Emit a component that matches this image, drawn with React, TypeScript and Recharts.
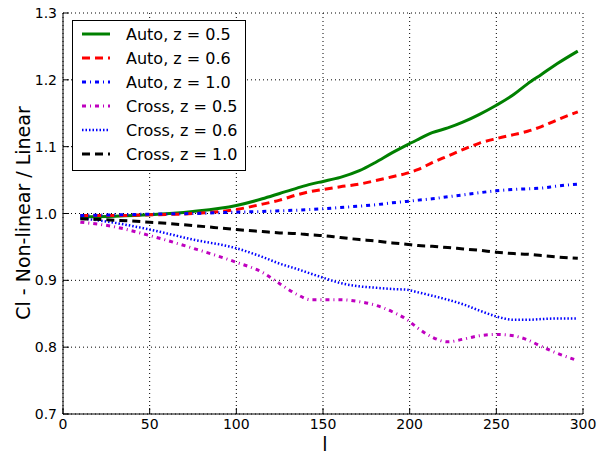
import React from 'react';
import {
  LineChart, Line, XAxis, YAxis, CartesianGrid, Legend,
} from 'recharts';

const ELLS = [10, 30, 50, 75, 100, 115, 125, 135, 143, 150, 160, 171, 180, 190, 198, 205, 213, 222, 231, 240, 250, 260, 268, 276, 285, 297];

const AUTO_05 = [0.995, 0.996, 0.998, 1.003, 1.012, 1.022, 1.030, 1.038, 1.044, 1.048, 1.054, 1.064, 1.076, 1.091, 1.102, 1.111, 1.121, 1.128, 1.137, 1.148, 1.162, 1.178, 1.194, 1.208, 1.224, 1.243];
const AUTO_06 = [0.997, 0.997, 0.998, 1.0, 1.006, 1.014, 1.020, 1.028, 1.033, 1.036, 1.040, 1.044, 1.049, 1.055, 1.060, 1.066, 1.076, 1.086, 1.096, 1.105, 1.112, 1.118, 1.123, 1.130, 1.140, 1.152];
const AUTO_10 = [0.997, 0.998, 0.999, 1.0, 1.002, 1.003, 1.004, 1.005, 1.006, 1.007, 1.009, 1.011, 1.013, 1.016, 1.018, 1.020, 1.022, 1.025, 1.028, 1.031, 1.034, 1.036, 1.037, 1.038, 1.041, 1.044];
const CROSS_05 = [0.987, 0.98, 0.967, 0.948, 0.927, 0.912, 0.895, 0.879, 0.871, 0.871, 0.871, 0.868, 0.863, 0.853, 0.842, 0.828, 0.815, 0.808, 0.812, 0.817, 0.819, 0.817, 0.811, 0.801, 0.791, 0.78];
const CROSS_06 = [0.993, 0.986, 0.976, 0.961, 0.948, 0.935, 0.925, 0.917, 0.910, 0.904, 0.896, 0.891, 0.889, 0.887, 0.886, 0.882, 0.877, 0.871, 0.864, 0.855, 0.846, 0.841, 0.841, 0.842, 0.843, 0.843];
const CROSS_10 = [0.992, 0.99, 0.987, 0.982, 0.976, 0.973, 0.971, 0.970, 0.968, 0.967, 0.964, 0.961, 0.959, 0.956, 0.954, 0.952, 0.951, 0.949, 0.947, 0.945, 0.942, 0.940, 0.939, 0.937, 0.935, 0.933];

const X_TICKS = [0, 50, 100, 150, 200, 250, 300];
const Y_TICKS = [0.7, 0.8, 0.9, 1.0, 1.1, 1.2, 1.3];

const SERIES = [
  { key: 'a05', name: 'Auto, z = 0.5', values: AUTO_05, color: '#008000', width: 3, dash: undefined },
  { key: 'a06', name: 'Auto, z = 0.6', values: AUTO_06, color: '#ff0000', width: 3, dash: '8 5' },
  { key: 'a10', name: 'Auto, z = 1.0', values: AUTO_10, color: '#0000ff', width: 3, dash: '4 4 1 4' },
  { key: 'c05', name: 'Cross, z = 0.5', values: CROSS_05, color: '#bf00bf', width: 3, dash: '4 4 1 4' },
  { key: 'c06', name: 'Cross, z = 0.6', values: CROSS_06, color: '#0000ff', width: 2.5, dash: '1.5 2' },
  { key: 'c10', name: 'Cross, z = 1.0', values: CROSS_10, color: '#000000', width: 3, dash: '8 5' },
];

const data = ELLS.map((l, i) => {
  const row: Record<string, number> = { l };
  for (const s of SERIES) row[s.key] = s.values[i];
  return row;
});

const FONT = 'DejaVu Sans, sans-serif';

function BottomTick(props: any) {
  const { x, y, payload } = props;
  const axisY = y - 8;
  return (
    <g>
      <line x1={x} x2={x} y1={axisY} y2={axisY - 6} stroke="#000" />
      <text x={x} y={axisY + 15} textAnchor="middle" fontSize={14} fontFamily={FONT} fill="#000">
        {payload.value}
      </text>
    </g>
  );
}

function LeftTick(props: any) {
  const { x, y, payload } = props;
  const axisX = x + 6;
  return (
    <g>
      <line x1={axisX} x2={axisX + 6} y1={y} y2={y} stroke="#000" />
      <text x={axisX - 6} y={y + 5} textAnchor="end" fontSize={14} fontFamily={FONT} fill="#000">
        {Number(payload.value).toFixed(1)}
      </text>
    </g>
  );
}

function TopTick(props: any) {
  const { x, y } = props;
  const axisY = y + 2;
  return <line x1={x} x2={x} y1={axisY} y2={axisY + 6} stroke="#000" />;
}

function RightTick(props: any) {
  const { x, y } = props;
  const axisX = x - 2;
  return <line x1={axisX} x2={axisX - 6} y1={y} y2={y} stroke="#000" />;
}

function LegendBox() {
  return (
    <svg width={174} height={151} style={{ display: 'block' }}>
      <rect x={0.5} y={0.5} width={173} height={150} fill="#fff" stroke="#000" />
      {SERIES.map((s, i) => {
        const cy = 14 + i * 24;
        return (
          <g key={s.key}>
            <line x1={10} x2={38} y1={cy} y2={cy} stroke={s.color} strokeWidth={s.width}
              strokeDasharray={s.dash} />
            <text x={54} y={cy + 6} fontSize={16} fontFamily={FONT} fill="#000">{s.name}</text>
          </g>
        );
      })}
    </svg>
  );
}

export default function App() {
  document.body.style.margin = '0';
  return (
    <div style={{ width: 609, height: 455, background: '#fff', position: 'relative' }}>
      <LineChart width={609} height={455} data={data}
        margin={{ top: 13, right: 26, left: 0, bottom: 0 }}>
        <CartesianGrid stroke="#000" strokeDasharray="1 3" horizontalValues={Y_TICKS}
          verticalValues={X_TICKS} />
        <XAxis dataKey="l" type="number" domain={[0, 300]} ticks={X_TICKS} height={41}
          axisLine={{ stroke: '#000' }} tickLine={false} tickSize={0} tickMargin={8}
          tick={<BottomTick />} interval={0} />
        <XAxis xAxisId="top" orientation="top" type="number" domain={[0, 300]} ticks={X_TICKS}
          height={0} axisLine={{ stroke: '#000' }} tickLine={false} tickSize={0} tickMargin={2}
          tick={<TopTick />} interval={0} />
        <YAxis type="number" domain={[0.7, 1.3]} ticks={Y_TICKS} width={63}
          axisLine={{ stroke: '#000' }} tickLine={false} tickSize={0} tickMargin={6}
          tick={<LeftTick />} interval={0} />
        <YAxis yAxisId="right" orientation="right" type="number" domain={[0.7, 1.3]} ticks={Y_TICKS}
          width={0} axisLine={{ stroke: '#000' }} tickLine={false} tickSize={0} tickMargin={2}
          tick={<RightTick />} interval={0} />
        <Legend layout="vertical" align="center" verticalAlign="middle"
          wrapperStyle={{ left: 72, top: 20, width: 174, height: 151 }}
          content={() => <LegendBox />} />
        {SERIES.map((s) => (
          <Line key={s.key} type="monotone" dataKey={s.key} name={s.name} stroke={s.color}
            strokeWidth={s.width} strokeDasharray={s.dash} dot={false}
            isAnimationActive={false} />
        ))}
      </LineChart>
      <div style={{ position: 'absolute', left: 325, top: 434, fontFamily: FONT, fontSize: 19,
        lineHeight: '20px', transform: 'translateX(-50%)' }}>l</div>
      <div style={{ position: 'absolute', left: 23, top: 213, fontFamily: FONT, fontSize: 19,
        transform: 'translate(-50%, -50%) rotate(-90deg)', whiteSpace: 'nowrap' }}>
        Cl - Non-linear / Linear
      </div>
    </div>
  );
}
